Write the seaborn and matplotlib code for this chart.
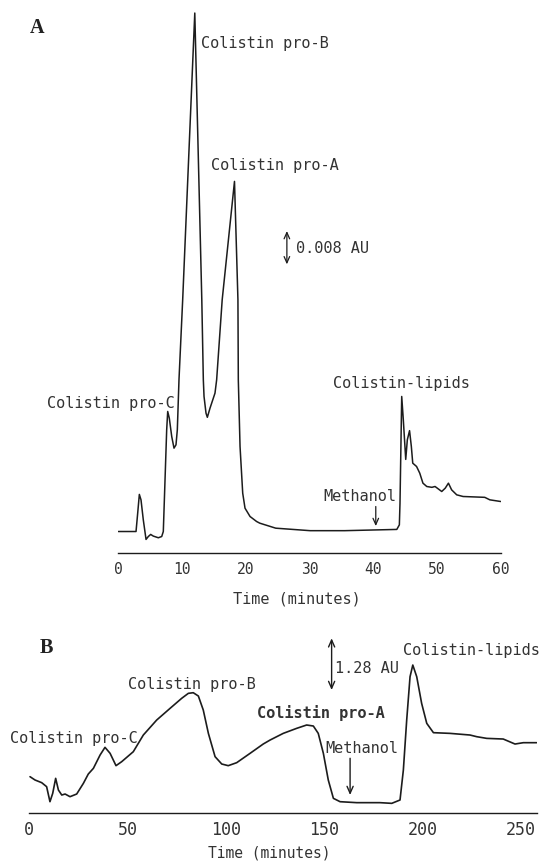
import matplotlib
matplotlib.use("Agg")
import matplotlib.pyplot as plt
import seaborn as sns
import pandas as pd

# ---------------- data ----------------
# Panel A: time (min) and absorbance above baseline (mAU)
time_a = [0, 2.78, 3.04, 3.30, 3.56, 3.92, 4.35, 4.71, 5.08, 5.49, 6.28, 6.81,
          7.06, 7.33, 7.59, 7.75, 8.0, 8.38, 8.74, 9.05, 9.26, 9.52, 10.1, 11.1,
          12.0, 13.1, 13.34, 13.45, 13.76, 13.97, 14.39, 15.17, 15.43, 16.3, 18.23,
          18.77, 18.83, 19.1, 19.52, 19.88, 20.67, 21.7, 22.2, 24.7, 30.1, 35.5,
          43.7, 44.1, 44.2, 44.47, 44.72, 45.1, 45.35, 45.7, 45.98, 46.2, 46.8,
          47.3, 47.8, 48.4, 49.2, 49.7, 50.75, 51.3, 51.8, 52.3, 53.1, 54.1, 57.5,
          58.3, 60]
signal_a = [0, 0, 4.4, 8.9, 7.6, 2.8, -1.9, -1.2, -0.7, -1.1, -1.5, -1.2,
            0, 12.4, 24.4, 28.8, 27.2, 22.8, 20.0, 20.8, 24.4, 36.4, 55.6, 91.8,
            124.4, 55.6, 36.4, 32.4, 28.4, 27.4, 29.6, 33.2, 36.4, 55.6, 84.0,
            55.6, 36.4, 20.4, 9.2, 5.6, 3.6, 2.4, 2.0, 0.8, 0.2, 0.2,
            0.5, 1.6, 6.8, 32.4, 26.8, 17.3, 22.0, 24.2, 20.4, 16.4, 15.6,
            14.0, 11.6, 10.8, 10.6, 10.8, 9.6, 10.4, 11.6, 10.0, 8.8, 8.4, 8.2,
            7.6, 7.2]

# Panel B: time (min) and absorbance (AU)
time_b = [0.36, 2.9, 6.3, 8.8, 10.5, 11.9, 13.4, 14.8, 16.5, 18.2, 20.7, 24.1,
          27.5, 30.0, 32.6, 36.0, 38.5, 41.1, 44.1, 47.0, 52.9, 58.0, 64.8, 71.6,
          77.5, 80.9, 83.4, 86.0, 88.5, 91.1, 94.5, 97.9, 101.2, 105.5, 112.3,
          119.0, 122.5, 129.2, 136.0, 141.1, 144.5, 147.0, 149.6, 152.1, 154.7,
          158.1, 166.6, 178.4, 184.4, 188.6, 190.3, 192.0, 193.7, 195.1, 197.1,
          199.6, 202.2, 205.6, 214.0, 224.2, 227.6, 232.7, 241.1, 247.1, 251.3,
          258.1]
signal_b = [0.891, 0.809, 0.743, 0.644, 0.272, 0.479, 0.850, 0.561, 0.437, 0.462,
            0.396, 0.462, 0.726, 0.957, 1.098, 1.428, 1.618, 1.469, 1.164, 1.263,
            1.510, 1.923, 2.294, 2.583, 2.831, 2.955, 2.971, 2.889, 2.542, 1.964,
            1.387, 1.205, 1.164, 1.238, 1.469, 1.700, 1.799, 1.964, 2.088, 2.171,
            2.146, 1.964, 1.469, 0.809, 0.355, 0.272, 0.248, 0.248, 0.231, 0.314,
            1.056, 2.294, 3.367, 3.656, 3.367, 2.707, 2.212, 1.981, 1.964, 1.923,
            1.882, 1.840, 1.824, 1.700, 1.733, 1.733]

ticks_a = [0, 10, 20, 30, 40, 50, 60]
ticks_b = [0, 25, 50, 75, 100, 125, 150, 175, 200, 225, 250]
ticklabels_b = ["0", "", "50", "", "100", "", "150", "", "200", "", "250"]
xlabel = "Time (minutes)"

# ---------------- style ----------------
sns.set_style("white")
plt.rcParams["font.family"] = ["DejaVu Sans Mono"]
INK = "#1c1c1c"
MONO = ["DejaVu Sans Mono"]
SERIF = ["Liberation Serif", "DejaVu Serif"]

fig = plt.figure(figsize=(5.4, 8.64), dpi=100)
axA = fig.add_axes([0.2191, 0.3596, 0.7081, 0.6311])
axB = fig.add_axes([0.0543, 0.0594, 0.9409, 0.2172])

dfA = pd.DataFrame({"t": time_a, "v": signal_a})
dfB = pd.DataFrame({"t": time_b, "v": signal_b})
sns.lineplot(data=dfA, x="t", y="v", ax=axA, color=INK, lw=1.1, estimator=None, sort=False)
sns.lineplot(data=dfB, x="t", y="v", ax=axB, color=INK, lw=1.2, estimator=None, sort=False)

for ax in (axA, axB):
    sns.despine(ax=ax, left=True)
    ax.spines["bottom"].set_color(INK)
    ax.spines["bottom"].set_linewidth(1.0)
    ax.set_yticks([])
    ax.set_ylabel("")
    ax.tick_params(axis="x", direction="in", length=4, width=1.0, color=INK,
                   labelcolor="#333333")

axA.set_xlim(0, 60)
axA.set_ylim(-5.23, 125.6)
axA.set_xticks(ticks_a)
axA.set_xticklabels([str(t) for t in ticks_a])
axA.tick_params(axis="x", labelsize=10.5, pad=6)
axA.set_xlabel(xlabel, fontsize=11, color="#333333", va="center")
axA.xaxis.set_label_coords(0.467, -46 / 545.3)

axB.set_xlim(0, 258.5)
axB.set_ylim(0, 4.647)
axB.set_xticks(ticks_b)
axB.set_xticklabels(ticklabels_b)
axB.tick_params(axis="x", labelsize=12, pad=6)
axB.set_xlabel(xlabel, fontsize=10.5, color="#333333", va="center")
axB.xaxis.set_label_coords(0.472, -40.5 / 187.7)

tk = dict(color="#333333", fontsize=11, family=MONO, va="center")
# Panel A annotations
axA.text(12.98, 117.2, "Colistin pro-B", ha="left", **tk)
axA.text(14.55, 87.8, "Colistin pro-A", ha="left", **tk)
axA.text(8.9, 30.8, "Colistin pro-C", ha="right", **tk)
axA.text(33.7, 35.6, "Colistin-lipids", ha="left", **tk)
axA.text(32.2, 8.5, "Methanol", ha="left", **tk)
axA.text(27.9, 68.0, "0.008 AU", ha="left", **tk)
axA.annotate("", xy=(26.45, 64.1), xytext=(26.45, 72.1),
             arrowprops=dict(arrowstyle="<->,head_length=0.45,head_width=0.2",
                             lw=0.9, color=INK, shrinkA=0, shrinkB=0))
axA.annotate("", xy=(40.4, 1.3), xytext=(40.4, 6.0),
             arrowprops=dict(arrowstyle="->,head_length=0.45,head_width=0.2",
                             lw=0.9, color=INK, shrinkA=0, shrinkB=0))

# Panel B annotations
tb = dict(color="#333333", fontsize=11, family=MONO, va="center")
axB.text(-9.8, 1.842, "Colistin pro-C", ha="left", **tb)
axB.text(50.4, 3.162, "Colistin pro-B", ha="left", **tb)
axB.text(115.8, 2.461, "Colistin pro-A", ha="left", fontweight="bold",
         color="#333333", fontsize=11, family=MONO, va="center")
axB.text(150.4, 1.595, "Methanol", ha="left", **tb)
axB.text(155.5, 3.575, "1.28 AU", ha="left", **tb)
axB.text(190.3, 4.028, "Colistin-lipids", ha="left", clip_on=False, **tb)
axB.annotate("", xy=(153.8, 3.038), xytext=(153.8, 4.318),
             arrowprops=dict(arrowstyle="<->,head_length=0.5,head_width=0.22",
                             lw=1.0, color=INK, shrinkA=0, shrinkB=0))
axB.annotate("", xy=(163.2, 0.438), xytext=(163.2, 1.347),
             arrowprops=dict(arrowstyle="->,head_length=0.5,head_width=0.22",
                             lw=1.0, color=INK, shrinkA=0, shrinkB=0))

fig.text(37 / 540, 1 - 28.3 / 864, "A", family=SERIF, fontweight="bold",
         fontsize=14.5, color="#222222", ha="center", va="center")
fig.text(46.7 / 540, 1 - 648.3 / 864, "B", family=SERIF, fontweight="bold",
         fontsize=14.5, color="#222222", ha="center", va="center")

fig.savefig("out.png", dpi=100)
